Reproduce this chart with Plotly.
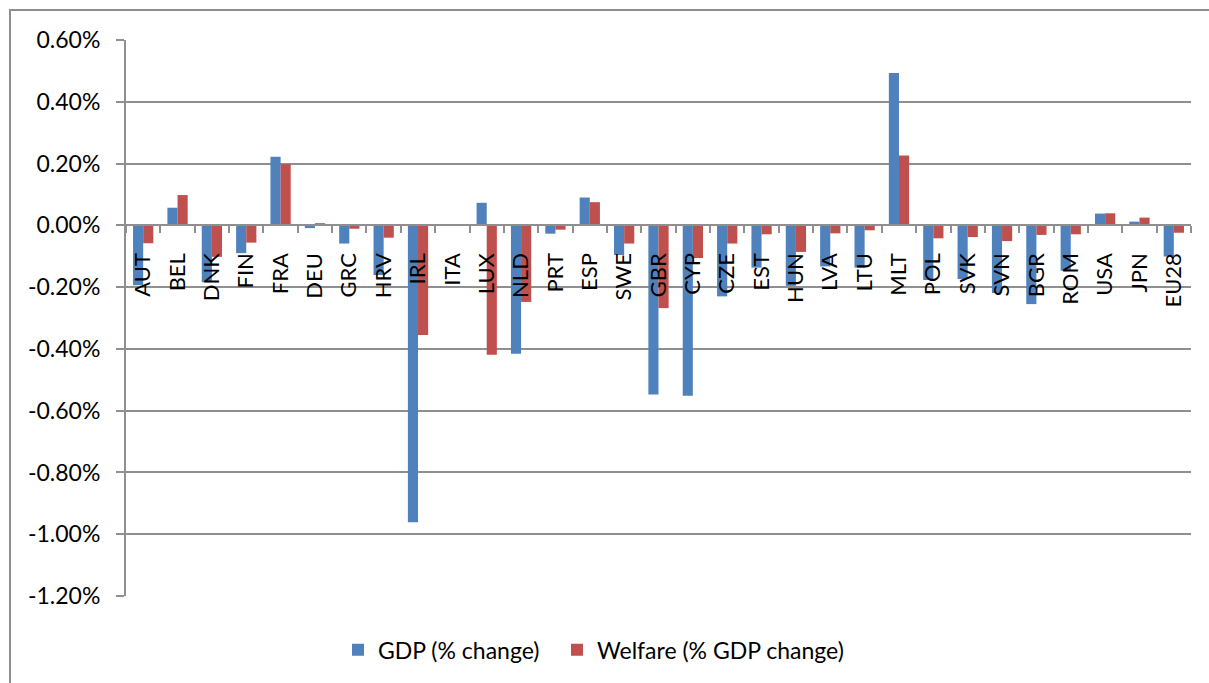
import plotly.graph_objects as go

countries = ["AUT", "BEL", "DNK", "FIN", "FRA", "DEU", "GRC", "HRV", "IRL", "ITA", "LUX",
             "NLD", "PRT", "ESP", "SWE", "GBR", "CYP", "CZE", "EST", "HUN", "LVA", "LTU",
             "MLT", "POL", "SVK", "SVN", "BGR", "ROM", "USA", "JPN", "EU28"]

gdp_change = [-0.194, 0.057, -0.184, -0.090, 0.222, -0.009, -0.059, -0.161, -0.961, 0.000, 0.073,
              -0.416, -0.027, 0.090, -0.096, -0.548, -0.552, -0.230, -0.137, -0.196, -0.133, -0.137,
              0.493, -0.177, -0.174, -0.219, -0.255, -0.147, 0.038, 0.012, -0.101]

welfare_change = [-0.058, 0.098, -0.102, -0.056, 0.198, 0.007, -0.011, -0.040, -0.355, 0.002, -0.419,
                  -0.248, -0.014, 0.075, -0.059, -0.268, -0.106, -0.059, -0.029, -0.086, -0.026, -0.016,
                  0.226, -0.042, -0.038, -0.051, -0.031, -0.029, 0.039, 0.025, -0.024]

y_ticks = [0.6, 0.4, 0.2, 0.0, -0.2, -0.4, -0.6, -0.8, -1.0, -1.2]
y_tick_labels = [f"{v:.2f}%" for v in y_ticks]

series_names = ["GDP (% change)", "Welfare (% GDP change)"]
series_colors = ["#4F81BD", "#C0504D"]
legend_ids = ["legend", "legend2"]

FONT = "Lato"
GRID = "#8f8f8f"

fig = go.Figure()
for name, vals, col, lg in zip(series_names, [gdp_change, welfare_change], series_colors, legend_ids):
    fig.add_trace(go.Bar(x=countries, y=vals, name=name, legend=lg,
                         marker=dict(color=col, line=dict(width=0))))

W, H = 1209, 683
L, R, T, B = 126, 18, 40, 85
pw, ph = W - L - R, H - T - B

def px_x(x):
    return (x - L) / pw

def px_y(y):
    return (H - B - y) / ph

legend_common = dict(orientation="h", xanchor="left", y=px_y(652), yanchor="middle",
                     font=dict(size=23, family=FONT), itemwidth=30,
                     bgcolor="rgba(0,0,0,0)")

fig.update_layout(
    width=W, height=H,
    margin=dict(l=L, r=R, t=T, b=B),
    paper_bgcolor="white", plot_bgcolor="white",
    font=dict(family=FONT, color="black"),
    barmode="group", bargap=0.41, bargroupgap=0,
    showlegend=True,
    legend=dict(x=px_x(338), **legend_common),
    legend2=dict(x=px_x(557), **legend_common),
    xaxis=dict(type="category", anchor="free", position=1.2 / 1.8,
               showline=True, linecolor=GRID, linewidth=2,
               showgrid=False, ticks="outside", tickson="boundaries", ticklen=7,
               tickcolor=GRID, tickwidth=2, tickangle=-90,
               tickfont=dict(size=22, family=FONT), ticklabelstandoff=18),
    yaxis=dict(range=[-1.2, 0.6], tickmode="array", tickvals=y_ticks, ticktext=y_tick_labels,
               showgrid=True, gridcolor=GRID, gridwidth=2,
               showline=True, linecolor=GRID, linewidth=2,
               zeroline=False,
               ticks="outside", ticklen=8, tickcolor=GRID, tickwidth=2,
               tickfont=dict(size=23, family=FONT), ticklabelstandoff=11),
    shapes=[dict(type="rect", xref="paper", yref="paper",
                 x0=px_x(10), x1=px_x(1230), y0=px_y(10), y1=px_y(720),
                 line=dict(color=GRID, width=2), fillcolor="rgba(0,0,0,0)", layer="below")],
)

fig.write_html("out.html")
